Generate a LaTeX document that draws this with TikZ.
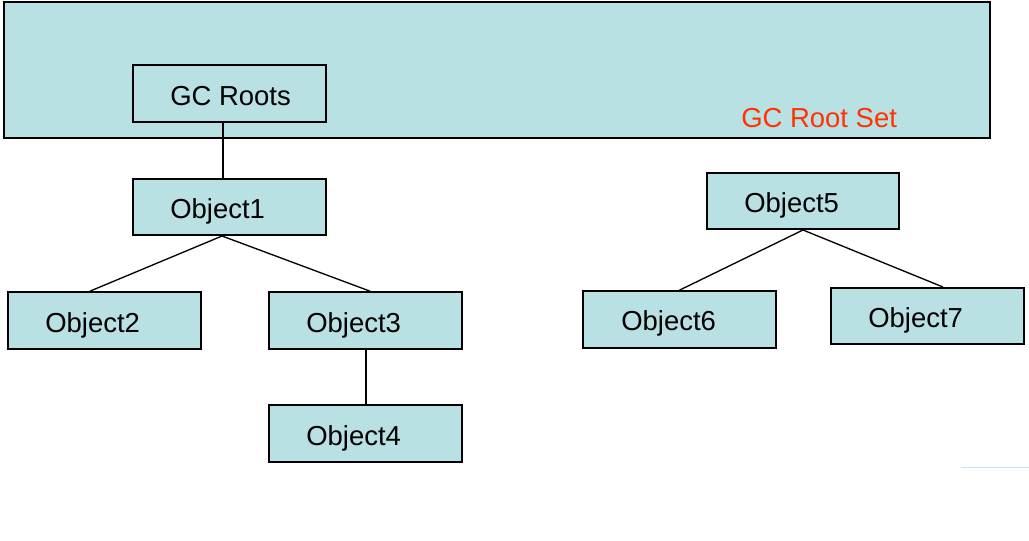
\documentclass[tikz,border=0pt]{standalone}
\usepackage{fontspec}
\setmainfont{Liberation Sans}
\definecolor{boxfill}{RGB}{185,224,227}
\definecolor{setred}{RGB}{255,51,0}
\definecolor{faint}{RGB}{204,228,242}
\begin{document}
\begin{tikzpicture}[x=0.75pt,y=-0.75pt,
 obj/.style={draw=black, fill=boxfill, line width=1.5pt, minimum width=144.75pt, minimum height=42.5pt, inner sep=0pt},
 lbl/.style={anchor=base west, inner sep=0pt, font=\fontsize{20.6}{24}\selectfont},
 link/.style={draw=black, line width=1.5pt},
 diag/.style={draw=black, line width=1pt}]
\useasboundingbox (0,0) rectangle (1029,540);
\node[obj, minimum width=739.5pt, minimum height=102pt] (set) at (497,70) {};
\node[obj] (rt) at (229.5,93.5) {};
\node[obj, minimum height=42pt] (o1) at (229.5,207) {};
\node[obj] (o2) at (104.5,320.5) {};
\node[obj] (o3) at (365.5,320.5) {};
\node[obj] (o4) at (365.5,433.5) {};
\node[obj, minimum width=144pt, minimum height=42pt] (o5) at (803,201) {};
\node[obj] (o6) at (679.5,319.5) {};
\node[obj, minimum height=42pt] (o7) at (927.5,316) {};
\draw[link] ([xshift=-4.9pt]rt.south) -- ([xshift=-4.9pt]o1.north);
\draw[diag] ([xshift=-5.6pt]o1.south) -- ([xshift=-10.9pt]o2.north);
\draw[diag] ([xshift=-5.6pt]o1.south) -- ([xshift=3.4pt]o3.north);
\draw[link] (o3.south) -- (o4.north);
\draw[diag] (o5.south) -- (o6.north);
\draw[diag] (o5.south) -- ([xshift=11.6pt]o7.north);
\node[lbl] (trt) at (170,105) {GC Roots};
\node[lbl] (t1) at (170,218) {Object1};
\node[lbl] (t2) at (45,332) {Object2};
\node[lbl] (t3) at (306,332) {Object3};
\node[lbl] (t4) at (306,445) {Object4};
\node[lbl] (t5) at (744,212) {Object5};
\node[lbl] (t6) at (621,330) {Object6};
\node[lbl] (t7) at (868,327) {Object7};
\node[lbl, text=setred] (tset) at (741,127) {GC Root Set};
\coordinate (fa) at (961,467);
\coordinate (fb) at (1029,467);
\draw[faint, line width=0.75pt] (fa) -- (fb);
\end{tikzpicture}
\end{document}
